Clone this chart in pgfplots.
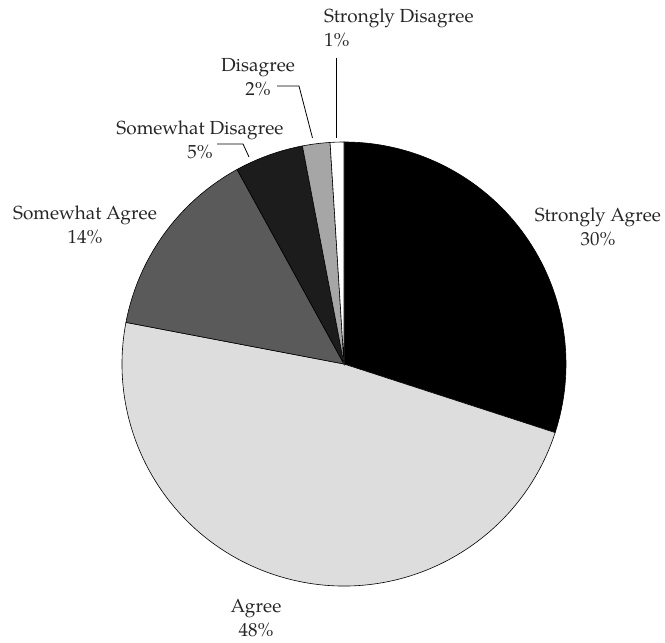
\documentclass[border=0pt]{standalone}
\usepackage{pgfplots}
\usepackage{pgfplotstable}
\usepackage{fontspec}
\setmainfont{TeX Gyre Pagella}
\pgfplotsset{compat=1.18}
\definecolor{cSA}{HTML}{000000}
\definecolor{cA}{HTML}{DDDDDD}
\definecolor{cSomA}{HTML}{5A5A5A}
\definecolor{cSomD}{HTML}{1C1C1C}
\definecolor{cD}{HTML}{A6A6A6}
\definecolor{cSD}{HTML}{FFFFFF}
\pgfplotstableread{
label value
StronglyAgree 30
Agree 48
SomewhatAgree 14
SomewhatDisagree 5
Disagree 2
StronglyDisagree 1
}\piedata
\begin{document}
\pgfplotstablegetelem{0}{value}\of\piedata \pgfmathsetmacro\aA{90-3.6*\pgfplotsretval}%
\pgfplotstablegetelem{1}{value}\of\piedata \pgfmathsetmacro\aB{\aA-3.6*\pgfplotsretval}%
\pgfplotstablegetelem{2}{value}\of\piedata \pgfmathsetmacro\aC{\aB-3.6*\pgfplotsretval}%
\pgfplotstablegetelem{3}{value}\of\piedata \pgfmathsetmacro\aD{\aC-3.6*\pgfplotsretval}%
\pgfplotstablegetelem{4}{value}\of\piedata \pgfmathsetmacro\aE{\aD-3.6*\pgfplotsretval}%
\pgfplotstablegetelem{5}{value}\of\piedata \pgfmathsetmacro\aF{\aE-3.6*\pgfplotsretval}%
\begin{tikzpicture}
\begin{axis}[
  scale only axis, width=665bp, height=643bp,
  xmin=0, xmax=665, ymin=0, ymax=643,
  hide axis, clip=false,
]
\path (axis cs:0,0) rectangle (axis cs:665,643);
\def\pr{222bp}
\filldraw[fill=cSA, draw=black, line width=0.6pt] (axis cs:344,279) -- +(90:\pr) arc[start angle=90, end angle=\aA, radius=\pr] -- cycle;
\filldraw[fill=cA, draw=black, line width=0.6pt] (axis cs:344,279) -- +(\aA:\pr) arc[start angle=\aA, end angle=\aB, radius=\pr] -- cycle;
\filldraw[fill=cSomA, draw=black, line width=0.6pt] (axis cs:344,279) -- +(\aB:\pr) arc[start angle=\aB, end angle=\aC, radius=\pr] -- cycle;
\filldraw[fill=cSomD, draw=black, line width=0.6pt] (axis cs:344,279) -- +(\aC:\pr) arc[start angle=\aC, end angle=\aD, radius=\pr] -- cycle;
\filldraw[fill=cD, draw=black, line width=0.6pt] (axis cs:344,279) -- +(\aD:\pr) arc[start angle=\aD, end angle=\aE, radius=\pr] -- cycle;
\filldraw[fill=cSD, draw=black, line width=0.6pt] (axis cs:344,279) -- +(\aE:\pr) arc[start angle=\aE, end angle=\aF, radius=\pr] -- cycle;
% leader lines
\draw[line width=0.8pt] (axis cs:336,585) -- (axis cs:336,505);
\draw[line width=0.8pt] (axis cs:277,557) -- (axis cs:299,557) -- (axis cs:312.5,505);
\draw[line width=0.8pt] (axis cs:217,499) -- (axis cs:243,499) -- (axis cs:249,486);
% labels
\tikzset{lab/.style={inner sep=0pt, align=center, font=\fontsize{19}{24}\selectfont, text=black!85}}
\node[lab, anchor=center] at (axis cs:598,416) {Strongly Agree\\30\%};
\node[lab, anchor=center] at (axis cs:256,24.5) {Agree\\48\%};
\node[lab, anchor=center] at (axis cs:85,418) {Somewhat Agree\\14\%};
\node[lab, anchor=center] at (axis cs:200,503) {Somewhat Disagree\\5\%};
\node[lab, anchor=center] at (axis cs:258,566) {Disagree\\2\%};
\node[lab, anchor=west, align=left] at (axis cs:324,615) {Strongly Disagree\\1\%};
\end{axis}
\end{tikzpicture}
\end{document}
